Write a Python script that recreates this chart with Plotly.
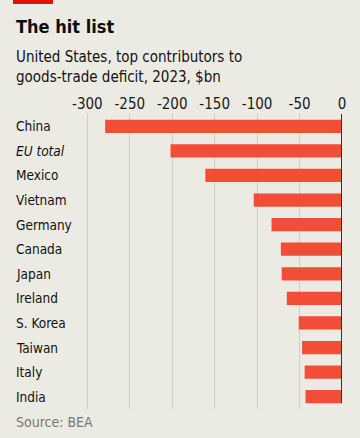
import plotly.graph_objects as go

categories = ["China", "EU total", "Mexico", "Vietnam", "Germany", "Canada",
              "Japan", "Ireland", "S. Korea", "Taiwan", "Italy", "India"]
values = [-279, -202, -161, -104, -83, -72, -71, -65, -51, -47, -44, -43]
tick_vals = [-300, -250, -200, -150, -100, -50, 0]
tick_text = ["-300", "-250", "-200", "-150", "-100", "-50", "0"]
italic_cats = ["EU total"]

W, H = 360, 438
ML, MR, MT, MB = 14, 18, 113, 29
BG = "#ECEBE3"
BAR = "#F04E37"
FONT = "DejaVu Sans Condensed, Roboto, sans-serif"
ph = H - MT - MB

def py(p):
    return (H - MB - p) / ph

fig = go.Figure()
fig.add_trace(go.Bar(
    x=values, y=categories, orientation="h",
    marker=dict(color=BAR, line=dict(width=0)),
    hoverinfo="x+y",
))

fig.update_layout(
    width=W, height=H,
    margin=dict(l=ML, r=MR, t=MT, b=MB),
    paper_bgcolor=BG, plot_bgcolor=BG,
    showlegend=False,
    bargap=0.46,
    font=dict(family=FONT, color="#1a1a1a"),
    xaxis=dict(
        range=[-386.4, 0], side="top",
        tickvals=tick_vals, ticktext=tick_text,
        showgrid=True, gridcolor="#CFCEC6", gridwidth=1,
        zeroline=False, showline=False, ticks="",
        tickfont=dict(size=15, color="#1a1a1a"),
        fixedrange=True,
    ),
    yaxis=dict(
        categoryorder="array", categoryarray=categories,
        autorange="reversed", range=[11.5, -0.5],
        showticklabels=False, showgrid=False, zeroline=False, ticks="",
        fixedrange=True,
    ),
)

# zero line
fig.add_shape(type="line", xref="x", yref="y", x0=0, x1=0, y0=-0.5, y1=11.27,
              line=dict(color="#333333", width=2))

# category labels, left aligned
for c in categories:
    txt = f"<i>{c}</i>" if c in italic_cats else c
    fig.add_annotation(x=0, xref="paper", y=c, yref="y", text=txt,
                       showarrow=False, xanchor="left", yanchor="middle",
                       font=dict(size=13.5, color="#111111", family=FONT))

# red tag
fig.add_shape(type="rect", xref="paper", yref="paper",
              x0=(13 - ML) / (W - ML - MR), x1=(53 - ML) / (W - ML - MR),
              y0=py(4), y1=py(0), fillcolor="#E3120B", line=dict(width=0))

fig.add_annotation(x=0, xref="paper", y=py(26), yref="paper",
                   text="<b>The hit list</b>", showarrow=False,
                   xanchor="left", yanchor="middle",
                   font=dict(size=18, color="#0d0d0d", family=FONT))
fig.add_annotation(x=0, xref="paper", y=py(67), yref="paper",
                   text="United States, top contributors to<br>goods-trade deficit, 2023, $bn",
                   showarrow=False, xanchor="left", yanchor="middle", align="left",
                   font=dict(size=15, color="#111111", family=FONT))
fig.add_annotation(x=0, xref="paper", y=py(422), yref="paper",
                   text="Source: BEA", showarrow=False,
                   xanchor="left", yanchor="middle",
                   font=dict(size=14, color="#777777", family=FONT))

fig.write_html("out.html", config={"displayModeBar": False},
               post_script="document.body.style.margin='0';document.body.style.background='%s';" % BG)
